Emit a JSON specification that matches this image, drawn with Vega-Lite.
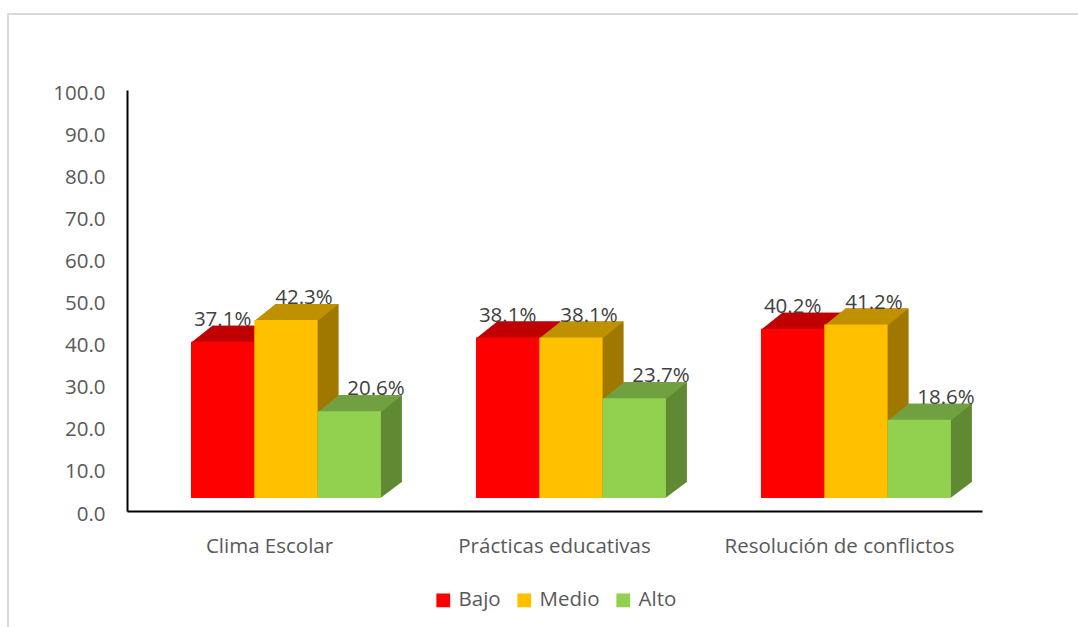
{
  "$schema": "https://vega.github.io/schema/vega-lite/v6.json",
  "width": 1072,
  "height": 615,
  "autosize": {"type": "none"},
  "padding": {"left": 8, "top": 14, "right": 0, "bottom": 0},
  "background": "white",
  "config": {"view": {"stroke": "#D9D9D9", "strokeWidth": 2}, "font": "Open Sans"},
  "data": {
    "values": [
      {"categoria": "Clima Escolar", "nivel": "Bajo", "valor": 37.1, "etiqueta": "37.1%"},
      {"categoria": "Clima Escolar", "nivel": "Medio", "valor": 42.3, "etiqueta": "42.3%"},
      {"categoria": "Clima Escolar", "nivel": "Alto", "valor": 20.6, "etiqueta": "20.6%"},
      {"categoria": "Prácticas educativas", "nivel": "Bajo", "valor": 38.1, "etiqueta": "38.1%"},
      {"categoria": "Prácticas educativas", "nivel": "Medio", "valor": 38.1, "etiqueta": "38.1%"},
      {"categoria": "Prácticas educativas", "nivel": "Alto", "valor": 23.7, "etiqueta": "23.7%"},
      {"categoria": "Resolución de conflictos", "nivel": "Bajo", "valor": 40.2, "etiqueta": "40.2%"},
      {"categoria": "Resolución de conflictos", "nivel": "Medio", "valor": 41.2, "etiqueta": "41.2%"},
      {"categoria": "Resolución de conflictos", "nivel": "Alto", "valor": 18.6, "etiqueta": "18.6%"}
    ]
  },
  "encoding": {
    "x": {
      "field": "categoria",
      "type": "nominal",
      "sort": ["Clima Escolar", "Prácticas educativas", "Resolución de conflictos"],
      "scale": {"type": "band", "paddingInner": 0, "paddingOuter": 0, "range": [119, 974]},
      "axis": {
        "title": null,
        "offset": -118,
        "labelAngle": 0,
        "labelLimit": 0,
        "domainColor": "black",
        "domainWidth": 2,
        "ticks": false,
        "labelFont": "Open Sans",
        "labelFontSize": 20.5,
        "labelColor": "#595959",
        "labelBaseline": "alphabetic",
        "labelPadding": 41
      }
    },
    "y": {
      "field": "valor",
      "type": "quantitative",
      "scale": {"domain": [0, 100], "nice": false, "range": [497, 76]},
      "axis": {
        "title": null,
        "offset": -119,
        "values": [0, 10, 20, 30, 40, 50, 60, 70, 80, 90, 100],
        "format": ".1f",
        "grid": false,
        "ticks": false,
        "domainColor": "black",
        "domainWidth": 2,
        "labelFont": "Open Sans",
        "labelFontSize": 20.5,
        "labelColor": "#595959",
        "labelPadding": 22,
        "labelOffset": 3
      }
    }
  },
  "layer": [
    {
      "mark": {"type": "bar", "yOffset": -29, "y2Offset": -29},
      "encoding": {
        "xOffset": {"field": "nivel", "type": "nominal", "sort": ["Bajo", "Medio", "Alto"], "scale": {"type": "band", "paddingInner": 0, "paddingOuter": 0.751, "align": 0.894}},
        "fill": {"field": "nivel", "type": "nominal", "scale": {"domain": ["Bajo", "Medio", "Alto"], "range": ["#A30000", "#A07800", "#5F8A33"]}, "legend": null}
      }
    },
    {
      "mark": {"type": "point", "filled": true, "opacity": 1, "strokeWidth": 0, "size": 4, "shape": "M31.15,-29.5L53.15,-29.5L31.15,-13Z"},
      "encoding": {
        "xOffset": {"field": "nivel", "type": "nominal", "sort": ["Bajo", "Medio", "Alto"], "scale": {"type": "band", "paddingInner": 0, "paddingOuter": 0.751, "align": 0.673}},
        "y": {"datum": 0},
        "fill": {"field": "nivel", "type": "nominal", "scale": {"domain": ["Bajo", "Medio", "Alto"], "range": ["#A30000", "#A07800", "#5F8A33"]}, "legend": null}
      }
    },
    {
      "mark": {"type": "point", "filled": true, "opacity": 1, "strokeWidth": 0, "size": 4, "shape": "M-31.65,-12L31.65,-12L52.65,-29L-10.35,-29Z"},
      "encoding": {
        "xOffset": {"field": "nivel", "type": "nominal", "sort": ["Bajo", "Medio", "Alto"], "scale": {"type": "band", "paddingInner": 0, "paddingOuter": 0.751, "align": 0.673}},
        "fill": {"field": "nivel", "type": "nominal", "scale": {"domain": ["Bajo", "Medio", "Alto"], "range": ["#C00000", "#BF9000", "#70A040"]}, "legend": null}
      }
    },
    {
      "mark": {"type": "bar", "yOffset": -13, "y2Offset": -13},
      "encoding": {
        "xOffset": {"field": "nivel", "type": "nominal", "sort": ["Bajo", "Medio", "Alto"], "scale": {"type": "band", "paddingInner": 0, "paddingOuter": 0.751, "align": 0.673}},
        "color": {
          "field": "nivel",
          "type": "nominal",
          "sort": ["Bajo", "Medio", "Alto"],
          "scale": {"domain": ["Bajo", "Medio", "Alto"], "range": ["#FF0000", "#FFC000", "#92D050"]},
          "legend": {
            "title": null,
            "orient": "none",
            "legendX": 425,
            "legendY": 576,
            "direction": "horizontal",
            "symbolType": "square",
            "symbolSize": 190,
            "symbolStrokeWidth": 0,
            "labelFont": "Open Sans",
            "labelFontSize": 20.5,
            "labelColor": "#595959",
            "labelOffset": 5,
            "columnPadding": 13,
            "padding": 0
          }
        }
      }
    },
    {
      "transform": [{"filter": "datum.nivel === 'Bajo'"}],
      "mark": {"type": "text", "dy": -29, "dx": 0, "baseline": "alphabetic", "align": "center", "font": "Open Sans", "fontSize": 20.5, "color": "#404040"},
      "encoding": {
        "xOffset": {"field": "nivel", "type": "nominal", "sort": ["Bajo", "Medio", "Alto"], "scale": {"type": "band", "domain": ["Bajo", "Medio", "Alto"], "paddingInner": 0, "paddingOuter": 0.751, "align": 0.673}},
        "text": {"field": "etiqueta", "type": "nominal"}
      }
    },
    {
      "transform": [{"filter": "datum.nivel === 'Medio'"}],
      "mark": {"type": "text", "dy": -29, "dx": 18, "baseline": "alphabetic", "align": "center", "font": "Open Sans", "fontSize": 20.5, "color": "#404040"},
      "encoding": {
        "xOffset": {"field": "nivel", "type": "nominal", "sort": ["Bajo", "Medio", "Alto"], "scale": {"type": "band", "domain": ["Bajo", "Medio", "Alto"], "paddingInner": 0, "paddingOuter": 0.751, "align": 0.673}},
        "text": {"field": "etiqueta", "type": "nominal"}
      }
    },
    {
      "transform": [{"filter": "datum.nivel === 'Alto'"}],
      "mark": {"type": "text", "dy": -29, "dx": 26.7, "baseline": "alphabetic", "align": "center", "font": "Open Sans", "fontSize": 20.5, "color": "#404040"},
      "encoding": {
        "xOffset": {"field": "nivel", "type": "nominal", "sort": ["Bajo", "Medio", "Alto"], "scale": {"type": "band", "domain": ["Bajo", "Medio", "Alto"], "paddingInner": 0, "paddingOuter": 0.751, "align": 0.673}},
        "text": {"field": "etiqueta", "type": "nominal"}
      }
    }
  ],
  "resolve": {"scale": {"xOffset": "independent", "fill": "independent"}}
}
